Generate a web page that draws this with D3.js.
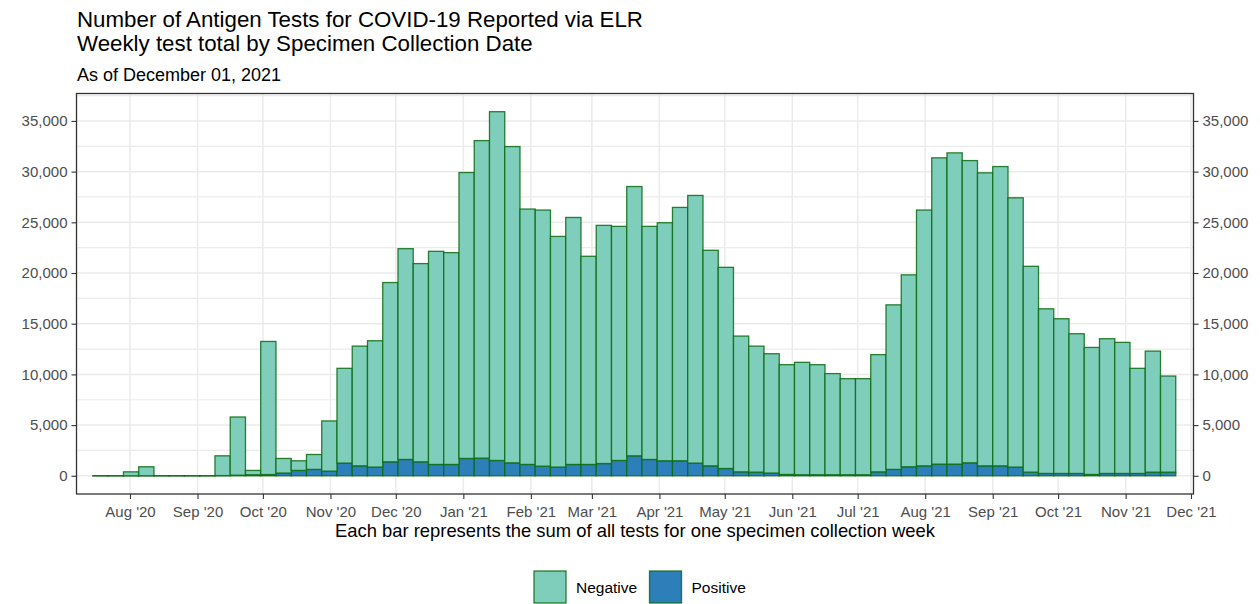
<!DOCTYPE html>
<html>
<head>
<meta charset="utf-8">
<script src="https://cdn.jsdelivr.net/npm/d3@7"></script>
<style>
  html, body { margin: 0; padding: 0; background: #fff; }
  svg { display: block; font-family: "Liberation Sans", Arial, sans-serif; }
</style>
</head>
<body>
<svg id="chart" width="1260" height="604"></svg>
<script>
// ---- Data ----
const weekStarts = [
  "2020-07-15","2020-07-22","2020-07-29","2020-08-05","2020-08-12","2020-08-19","2020-08-26",
  "2020-09-02","2020-09-09","2020-09-16","2020-09-23","2020-09-30","2020-10-07","2020-10-14",
  "2020-10-21","2020-10-28","2020-11-04","2020-11-11","2020-11-18","2020-11-25","2020-12-02",
  "2020-12-09","2020-12-16","2020-12-23","2020-12-30","2021-01-06","2021-01-13","2021-01-20",
  "2021-01-27","2021-02-03","2021-02-10","2021-02-17","2021-02-24","2021-03-03","2021-03-10",
  "2021-03-17","2021-03-24","2021-03-31","2021-04-07","2021-04-14","2021-04-21","2021-04-28",
  "2021-05-05","2021-05-12","2021-05-19","2021-05-26","2021-06-02","2021-06-09","2021-06-16",
  "2021-06-23","2021-06-30","2021-07-07","2021-07-14","2021-07-21","2021-07-28","2021-08-04",
  "2021-08-11","2021-08-18","2021-08-25","2021-09-01","2021-09-08","2021-09-15","2021-09-22",
  "2021-09-29","2021-10-06","2021-10-13","2021-10-20","2021-10-27","2021-11-03","2021-11-10",
  "2021-11-17"
];
const positive = [
  0,0,0,0,0,0,0,
  0,20,60,100,120,270,530,
  630,460,1250,980,860,1380,1610,
  1380,1120,1120,1710,1740,1510,1280,
  1120,950,860,1120,1120,1210,1510,
  1970,1610,1480,1480,1250,980,720,
  390,360,270,130,100,100,100,
  100,100,390,630,890,980,1150,
  1150,1280,980,980,860,360,230,
  230,230,130,230,230,230,360,
  360
];
const negative = [
  0,0,390,890,0,0,0,
  0,1950,5740,430,13130,1440,950,
  1470,4950,9350,11810,12460,17680,20790,
  19550,21020,20890,28200,31320,34400,31190,
  25190,25260,22750,24360,20530,23490,23090,
  26560,22990,23480,24990,26400,21260,19840,
  13390,12430,11770,10830,11090,10860,9980,
  9480,9480,11560,16230,18930,25230,30210,
  30700,29810,28900,29520,26560,20300,16240,
  15260,13780,12530,13290,12930,10370,11940,
  9480
];
const seriesNames = ["Positive", "Negative"];       // stacking order (bottom -> top)
const legendNames = ["Negative", "Positive"];
const yTicks = [0, 5000, 10000, 15000, 20000, 25000, 30000, 35000];
const monthTicks = ["2020-08-01","2020-09-01","2020-10-01","2020-11-01","2020-12-01",
  "2021-01-01","2021-02-01","2021-03-01","2021-04-01","2021-05-01","2021-06-01",
  "2021-07-01","2021-08-01","2021-09-01","2021-10-01","2021-11-01","2021-12-01"];
const titleLines = ["Number of Antigen Tests for COVID-19 Reported via ELR",
                    "Weekly test total by Specimen Collection Date"];
const subtitle = "As of December 01, 2021";
const xTitle = "Each bar represents the sum of all tests for one specimen collection week";

// ---- Setup ----
const colors = { Negative: "#7fcdbb", Positive: "#2c7fb8" };
const strokeCol = "#0b6b12";
const P = { left: 76.5, right: 1193.5, top: 93.5, bottom: 494 };
const parse = d3.utcParse("%Y-%m-%d");

const rows = weekStarts.map((w, i) => ({
  start: parse(w),
  end: d3.utcDay.offset(parse(w), 7),
  Positive: positive[i],
  Negative: negative[i]
}));

const xBase = d3.scaleUtc().domain([parse("2020-08-01"), parse("2021-12-01")]).range([130, 1191]);
const x = d3.scaleUtc()
  .domain([xBase.invert(P.left), xBase.invert(P.right)])
  .range([P.left, P.right]);

const maxTotal = d3.max(rows, d => d.Positive + d.Negative);
const pad = maxTotal * 0.05;
const y = d3.scaleLinear().domain([-pad, maxTotal + pad]).range([P.bottom, P.top]);

const svg = d3.select("#chart");

// panel background
svg.append("rect").attr("x", P.left).attr("y", P.top)
  .attr("width", P.right - P.left).attr("height", P.bottom - P.top).attr("fill", "#fff");

// grid
const grid = svg.append("g");
const minorY = yTicks.map(t => t + 2500).filter(v => y(v) > P.top);
minorY.forEach(v => grid.append("line")
  .attr("x1", P.left).attr("x2", P.right).attr("y1", y(v)).attr("y2", y(v))
  .attr("stroke", "#ebebeb").attr("stroke-width", 1.2));
yTicks.forEach(v => grid.append("line")
  .attr("x1", P.left).attr("x2", P.right).attr("y1", y(v)).attr("y2", y(v))
  .attr("stroke", "#ebebeb").attr("stroke-width", 1.5));
monthTicks.map(parse).forEach(d => {
  if (x(d) > P.left && x(d) < P.right) grid.append("line")
    .attr("x1", x(d)).attr("x2", x(d)).attr("y1", P.top).attr("y2", P.bottom)
    .attr("stroke", "#ebebeb").attr("stroke-width", 1.5);
});

// bars
const stack = d3.stack().keys(seriesNames);
const stacked = stack(rows);
const barsG = svg.append("g");
stacked.forEach(layer => {
  barsG.append("g").selectAll("rect").data(layer).join("rect")
    .attr("x", d => x(d.data.start))
    .attr("width", d => x(d.data.end) - x(d.data.start))
    .attr("y", d => y(d[1]))
    .attr("height", d => Math.max(0.01, y(d[0]) - y(d[1])))
    .attr("fill", colors[layer.key])
    .attr("stroke", strokeCol)
    .attr("stroke-opacity", 0.85)
    .attr("stroke-width", 1.3);
});

// panel border
svg.append("rect").attr("x", P.left).attr("y", P.top)
  .attr("width", P.right - P.left).attr("height", P.bottom - P.top)
  .attr("fill", "none").attr("stroke", "#333").attr("stroke-width", 1.3);

// axes
const fmt = d3.format(",");
const styleAxis = g => {
  g.select(".domain").remove();
  g.selectAll(".tick line").attr("stroke", "#333").attr("stroke-width", 1.1);
  g.selectAll(".tick text").attr("fill", "#4d4d4d").style("font-size", "15px")
    .style("font-family", "'Liberation Sans', Arial, sans-serif");
};
svg.append("g").attr("transform", `translate(${P.left},0)`)
  .call(d3.axisLeft(y).tickValues(yTicks).tickFormat(fmt).tickSize(5).tickPadding(4))
  .call(styleAxis);
svg.append("g").attr("transform", `translate(${P.right},0)`)
  .call(d3.axisRight(y).tickValues(yTicks).tickFormat(fmt).tickSize(5).tickPadding(4))
  .call(styleAxis);
svg.append("g").attr("transform", `translate(0,${P.bottom})`)
  .call(d3.axisBottom(x).tickValues(monthTicks.map(parse))
    .tickFormat(d3.utcFormat("%b '%y")).tickSize(5).tickPadding(4))
  .call(styleAxis)
  .selectAll(".tick text").attr("dy", "0.9em");

// titles
svg.append("text").attr("x", 77).attr("y", 26.5).attr("font-size", 22.3).attr("fill", "#000")
  .text(titleLines[0]);
svg.append("text").attr("x", 77).attr("y", 50.5).attr("font-size", 22.3).attr("fill", "#000")
  .text(titleLines[1]);
svg.append("text").attr("x", 77).attr("y", 80.5).attr("font-size", 18).attr("fill", "#000")
  .text(subtitle);
svg.append("text").attr("x", (P.left + P.right) / 2).attr("y", 537).attr("text-anchor", "middle")
  .attr("font-size", 18.4).attr("fill", "#000").text(xTitle);

// legend
const lg = svg.append("g");
const legX = [534, 649.5];
legendNames.forEach((k, i) => {
  lg.append("rect").attr("x", legX[i]).attr("y", 571).attr("width", 32).attr("height", 32)
    .attr("fill", colors[k]).attr("stroke", strokeCol).attr("stroke-opacity", 0.85).attr("stroke-width", 1.3);
  lg.append("text").attr("x", legX[i] + 42).attr("y", 592.5).attr("font-size", 15.5)
    .attr("fill", "#000").text(k);
});
</script>
</body>
</html>
